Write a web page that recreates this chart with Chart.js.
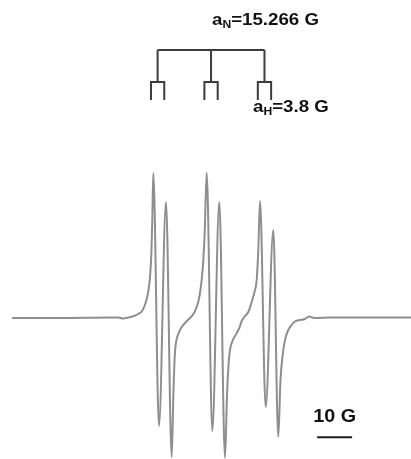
<!DOCTYPE html>
<html>
<head>
<meta charset="utf-8">
<title>EPR spectrum</title>
<script src="https://cdn.jsdelivr.net/npm/chart.js@4/dist/chart.umd.min.js"></script>
<style>
  html, body { margin: 0; padding: 0; background: #fff; }
  canvas { display: block; }
</style>
</head>
<body>
<canvas id="c" width="411" height="459"></canvas>
<script>
// field (G, relative) and first-derivative signal (arb. units), traced point by point
const fieldG = [
  3.43, 17.14, 31.43, 33.71, 35.14, 36.57, 38.29, 39.43, 40.49, 41.29, 41.91, 42.43, 42.86, 43.23, 43.51,
  43.80, 45.43, 47.43, 49.06,
  49.57, 50.00, 50.43, 50.94, 51.43, 52.14, 52.86, 53.71, 54.29, 55.14, 55.71, 56.57, 57.14, 57.71, 58.09, 58.51,
  59.06, 60.66, 62.66, 64.29,
  64.86, 65.29, 65.71, 66.43, 67.14, 68.37, 69.06, 70.00, 70.94, 71.91, 72.71, 73.34, 73.80,
  74.29, 75.91, 78.09, 79.51,
  80.14, 80.94, 81.57, 82.37, 83.29, 84.29, 85.71, 87.14, 88.29, 89.43, 90.00, 94.29, 105.71, 117.43
];
const signal = [
  -0.5, -0.5, 0, 0, -1, 0, 1.5, 3.5, 6, 11.5, 18.5, 27.5, 40.5, 62.5, 97.5,
  144.5, -108.5, 115.5, -139.5,
  -72.5, -34.5, -22.5, -16.5, -12.5, -8.5, -5.5, -2.5, -0.5, 3, 6.5, 14.5, 24.5, 40.5, 57.5, 87.5,
  144.8, -113.5, 115.5, -140.5,
  -77.5, -47.5, -32.5, -23.5, -18.5, -10.5, -3.5, 1.5, 5.5, 15.5, 25.5, 37.5, 67.5,
  116.5, -89.5, 87.5, -119.5,
  -62.5, -32.5, -20.5, -12.5, -7.5, -4, -2.5, -1.5, 1, -0.3, -0.5, 0, 0, 0
];

// hyperfine couplings (G) and the nitrogen triplet centres of the stick diagram
const hfcN = 15.266;
const hfcH = 3.8;
const nCentres = [45.034, 60.3, 75.566];
// stick diagram heights: top bar, fork bar, leg ends
const treeLevels = [267.5, 235.5, 217.5];

// 10 G scale bar
const barField = [90.6, 100.6];
const barLevel = -119.8;

const spectrum = fieldG.map((b, i) => ({ x: b, y: signal[i] }));

const gap = { x: null, y: null };
const [barY, forkY, legY] = treeLevels;
const tree = [{ x: nCentres[0], y: barY }, { x: nCentres[2], y: barY }, gap];
nCentres.forEach(c => {
  tree.push({ x: c, y: barY }, { x: c, y: forkY }, gap);
  tree.push(
    { x: c - hfcH / 2, y: legY }, { x: c - hfcH / 2, y: forkY },
    { x: c + hfcH / 2, y: forkY }, { x: c + hfcH / 2, y: legY }, gap
  );
});

const bar = barField.map(b => ({ x: b, y: barLevel }));

// labels drawn on top of the plot
const labels = {
  id: 'labels',
  afterDatasetsDraw(chart) {
    const { ctx, scales: { x, y } } = chart;
    const sx = 1.1;

    function sub(px, py, main, s, rest, size) {
      ctx.save();
      ctx.translate(px, py);
      ctx.scale(sx, 1);
      ctx.fillStyle = '#111';
      ctx.textBaseline = 'alphabetic';
      ctx.font = 'bold ' + size + 'px "Liberation Sans", Arial, sans-serif';
      ctx.fillText(main, 0, 0);
      let w = ctx.measureText(main).width;
      ctx.font = 'bold ' + Math.round(size * 0.66) + 'px "Liberation Sans", Arial, sans-serif';
      ctx.fillText(s, w, 3);
      w += ctx.measureText(s).width;
      ctx.font = 'bold ' + size + 'px "Liberation Sans", Arial, sans-serif';
      ctx.fillText(rest, w, 0);
      ctx.restore();
    }

    sub(x.getPixelForValue(60.57), y.getPixelForValue(292.5), 'a', 'N', '=' + hfcN + ' G', 17);
    sub(x.getPixelForValue(72.29), y.getPixelForValue(205.5), 'a', 'H', '=' + hfcH + ' G', 17);

    ctx.save();
    const cx = x.getPixelForValue((barField[0] + barField[1]) / 2);
    ctx.translate(cx, y.getPixelForValue(-104.2));
    ctx.scale(sx, 1);
    ctx.fillStyle = '#111';
    ctx.textAlign = 'center';
    ctx.font = 'bold 18px "Liberation Sans", Arial, sans-serif';
    ctx.fillText('10 G', 0, 0);
    ctx.restore();
  }
};

new Chart(document.getElementById('c'), {
  type: 'scatter',
  data: {
    datasets: [
      {
        data: spectrum,
        showLine: true,
        borderColor: '#8e8e8e',
        borderWidth: 2,
        cubicInterpolationMode: 'monotone',
        pointRadius: 0
      },
      {
        data: tree,
        showLine: true,
        borderColor: '#3c3c3c',
        borderWidth: 2,
        pointRadius: 0,
        spanGaps: false
      },
      {
        data: bar,
        showLine: true,
        borderColor: '#1e1e1e',
        borderWidth: 2,
        pointRadius: 0
      }
    ]
  },
  options: {
    responsive: false,
    animation: false,
    devicePixelRatio: 1,
    layout: { padding: 0 },
    plugins: { legend: { display: false }, tooltip: { enabled: false } },
    scales: {
      x: { type: 'linear', min: 0, max: 117.43, display: false },
      y: { type: 'linear', min: -141.5, max: 317.5, display: false }
    }
  },
  plugins: [labels]
});
</script>
</body>
</html>
